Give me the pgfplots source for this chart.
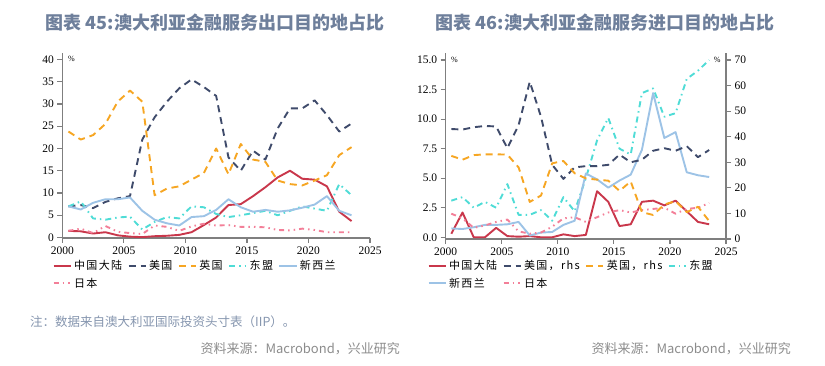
\documentclass[border=0pt]{standalone}
\usepackage{pgfplots}
\usepackage{pgfplotstable}
\pgfplotsset{compat=1.18}
\usepackage{fontspec}
\setmainfont{Liberation Serif}
\newfontfamily\cjk{Noto Sans CJK SC}
\newfontfamily\cjkl{Noto Sans CJK SC}[LetterSpace=12]

\definecolor{cnred}{HTML}{C9374B}
\definecolor{usnavy}{HTML}{3F4B6B}
\definecolor{ukorange}{HTML}{F6A623}
\definecolor{aseancyan}{HTML}{4FDCD6}
\definecolor{nzblue}{HTML}{9DC3E6}
\definecolor{jppink}{HTML}{F37F98}
\definecolor{titlec}{HTML}{6E7F9B}
\definecolor{notec}{HTML}{8595AE}
\definecolor{srcc}{HTML}{8C8C8C}
\definecolor{axc}{HTML}{7F7F7F}

\tikzset{
 sCN/.style={cnred, line width=1.9pt, solid, line join=round},
 sUS/.style={usnavy, line width=1.9pt, dash pattern=on 7pt off 5pt, line join=round},
 sUK/.style={ukorange, line width=1.9pt, dash pattern=on 7pt off 5pt, line join=round},
 sAS/.style={aseancyan, line width=1.9pt, dash pattern=on 6pt off 4pt on 1.5pt off 4pt, line join=round},
 sNZ/.style={nzblue, line width=1.9pt, solid, line join=round},
 sJP/.style={jppink, line width=1.9pt, dash pattern=on 5pt off 4pt on 1.5pt off 4pt on 1.5pt off 4pt, line join=round},
}

\pgfplotsset{myax/.style={
 scale only axis,
 xmin=2000, xmax=2025, xtick={2000,2005,...,2025},
 axis line style={axc, line width=1.2pt},
 tick style={axc, line width=1.2pt},
 major tick length=5pt,
 tick align=outside,
 tick label style={font=\fontsize{11.5}{13}\selectfont},
 /pgf/number format/assume math mode=true,
 /pgf/number format/1000 sep={},
 legend style={draw=none, fill=none, font=\cjkl\fontsize{11}{13}\selectfont, inner sep=0pt,
   nodes={inner sep=2.5pt}, row sep=2pt,
   /tikz/every even column/.append style={column sep=3pt}},
 legend cell align=left,
}}

\pgfplotstableread{
x cn us uk as nz jp
2000.5 1.5 7.0 23.8 7.0 7.0 1.5
2001.5 1.4 7.3 22.0 8.1 6.3 2.0
2002.5 0.9 6.6 23.0 4.3 7.8 1.0
2003.5 1.2 8.0 25.5 4.0 8.6 2.6
2004.5 0.5 8.8 30.5 4.5 8.6 1.3
2005.5 0.2 9.3 33.0 4.7 9.0 1.0
2006.5 0.1 22.0 30.5 1.8 6.0 0.8
2007.5 0.3 27.0 9.5 3.5 4.0 2.7
2008.5 0.4 30.5 11.0 4.6 3.2 2.4
2009.5 0.6 33.5 11.5 4.3 2.7 1.5
2010.5 1.2 35.5 13.0 7.0 4.6 2.5
2011.5 2.8 33.8 14.5 6.8 4.8 3.1
2012.5 4.5 31.8 20.0 5.3 6.2 2.7
2013.5 7.3 18.0 14.2 4.6 8.6 2.8
2014.5 7.5 15.0 21.0 5.0 6.8 2.4
2015.5 9.3 19.5 17.5 5.5 5.8 2.4
2016.5 11.3 17.5 17.0 6.0 6.2 2.3
2017.5 13.5 24.5 12.8 5.0 5.8 1.7
2018.5 15.0 29.0 12.0 6.0 6.1 1.6
2019.5 13.2 29.0 11.7 7.0 6.7 2.0
2020.5 13.0 30.8 12.8 6.5 7.4 1.7
2021.5 11.5 27.5 14.0 6.0 9.3 1.2
2022.5 5.8 23.8 18.5 12.0 6.0 1.2
2023.5 3.7 25.6 20.3 9.5 5.0 1.2
}\leftdata

\pgfplotstableread{
x cn us uk as nz jp
2000.5 0.3 43.0 32.5 3.1 0.75 2.0
2001.5 2.1 42.8 31.0 3.4 0.7 1.6
2002.5 0.0 43.7 32.8 2.5 0.85 0.8
2003.5 0.0 44.2 33.1 3.0 1.05 1.0
2004.5 0.8 44.0 33.1 2.5 1.05 1.3
2005.5 0.1 35.5 33.0 4.5 1.1 1.5
2006.5 0.05 44.5 28.0 1.9 1.3 0.5
2007.5 0.1 61.5 14.5 1.9 0.15 0.3
2008.5 0.0 47.8 17.0 2.3 0.4 0.4
2009.5 0.0 29.0 29.6 1.4 0.45 0.9
2010.5 0.25 23.5 30.5 3.4 1.05 1.6
2011.5 0.1 28.0 25.7 2.2 1.4 1.7
2012.5 0.2 28.5 23.7 5.0 5.4 1.3
2013.5 3.9 28.5 23.2 8.2 4.9 1.7
2014.5 3.0 29.0 22.8 10.1 4.2 2.1
2015.5 0.95 33.0 18.8 7.5 4.8 2.3
2016.5 1.1 30.0 22.5 7.0 5.3 2.1
2017.5 3.0 31.0 10.5 12.2 7.4 2.3
2018.5 3.1 34.5 9.4 12.6 12.2 2.4
2019.5 2.7 35.5 13.5 10.2 8.4 2.5
2020.5 3.1 34.5 14.8 10.5 8.9 2.0
2021.5 2.2 36.3 10.5 13.4 5.5 2.4
2022.5 1.3 32.0 12.6 14.1 5.25 2.5
2023.5 1.1 34.8 7.0 15.0 5.1 2.9
}\rightdata

\begin{document}
\begin{tikzpicture}
\path[use as bounding box] (0pt,0pt) rectangle (825pt,366pt);

% titles
\node[font=\cjk\bfseries\fontsize{18}{20}\selectfont, text=titlec] at (215pt,343pt) {图表 45:澳大利亚金融服务出口目的地占比};
\node[font=\cjk\bfseries\fontsize{18}{20}\selectfont, text=titlec] at (605pt,343pt) {图表 46:澳大利亚金融服务进口目的地占比};

% left chart
\begin{axis}[myax, at={(62.3pt,128pt)}, anchor=south west, width=307.7pt, height=185.3pt,
  axis x line*=bottom, axis y line*=left,
  ymin=-0.1, ymax=41.5, ytick={0,5,...,40},
  legend columns=5,
  legend style={at={(axis description cs:-0.0318,-0.105)}, anchor=north west},
]
\addplot[sCN] table[x=x,y=cn]{\leftdata}; \addlegendentry{中国大陆}
\addplot[sUS] table[x=x,y=us]{\leftdata}; \addlegendentry{美国}
\addplot[sUK] table[x=x,y=uk]{\leftdata}; \addlegendentry{英国}
\addplot[sAS] table[x=x,y=as]{\leftdata}; \addlegendentry{东盟}
\addplot[sNZ] table[x=x,y=nz]{\leftdata}; \addlegendentry{新西兰}
\addplot[sJP] table[x=x,y=jp]{\leftdata}; \addlegendentry{日本}
\node[anchor=north west, font=\fontsize{8}{9}\selectfont, inner sep=1pt] at (axis description cs:0.015,0.985) {\%};
\end{axis}

% right chart, left axis
\begin{axis}[myax, at={(445.7pt,127pt)}, anchor=south west, width=280.3pt, height=186.3pt,
  axis x line*=bottom, axis y line*=left,
  ymin=-0.144, ymax=15.62, ytick={0,2.5,...,15},
  yticklabel style={/pgf/number format/.cd, fixed, fixed zerofill, precision=1},
]
\addplot[sCN] table[x=x,y=cn]{\rightdata};
\addplot[sAS] table[x=x,y=as]{\rightdata};
\addplot[sNZ] table[x=x,y=nz]{\rightdata};
\addplot[sJP] table[x=x,y=jp]{\rightdata};
\node[anchor=north west, font=\fontsize{8}{9}\selectfont, inner sep=1pt] at (axis description cs:0.015,0.985) {\%};
\end{axis}

% right chart, right axis
\begin{axis}[myax, at={(445.7pt,127pt)}, anchor=south west, width=280.3pt, height=186.3pt,
  axis x line=none, axis y line*=right,
  ymin=0, ymax=72.85, ytick={0,10,...,70},
  legend columns=4,
  legend style={at={(axis description cs:-0.065,-0.0993)}, anchor=north west},
]
\addlegendimage{sCN}\addlegendentry{中国大陆}
\addplot[sUS] table[x=x,y=us]{\rightdata}; \addlegendentry{美国，rhs}
\addplot[sUK] table[x=x,y=uk]{\rightdata}; \addlegendentry{英国，rhs}
\addlegendimage{sAS}\addlegendentry{东盟}
\addlegendimage{sNZ}\addlegendentry{新西兰}
\addlegendimage{sJP}\addlegendentry{日本}
\node[anchor=north east, font=\fontsize{8}{9}\selectfont, inner sep=1pt] at (axis description cs:0.985,0.985) {\%};
\end{axis}

% notes
\node[anchor=west, font=\cjk\fontsize{12.5}{14}\selectfont, text=notec, inner sep=0pt] at (30pt,44pt) {注：数据来自澳大利亚国际投资头寸表（IIP）。};
\node[anchor=east, font=\cjk\fontsize{13}{15}\selectfont, text=srcc, inner sep=0pt] at (400pt,17pt) {资料来源：Macrobond，兴业研究};
\node[anchor=east, font=\cjk\fontsize{13}{15}\selectfont, text=srcc, inner sep=0pt] at (791pt,17pt) {资料来源：Macrobond，兴业研究};
\end{tikzpicture}
\end{document}
